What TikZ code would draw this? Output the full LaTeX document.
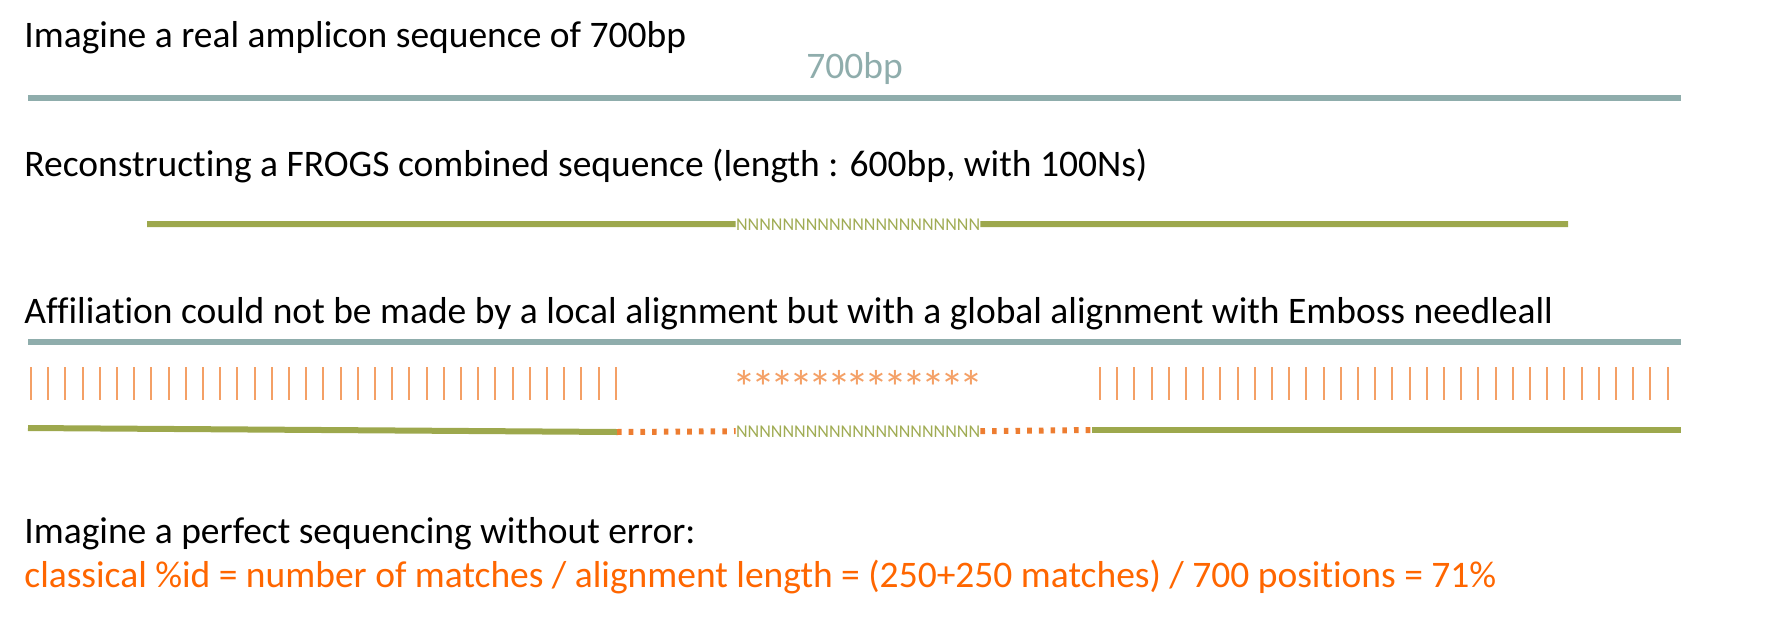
\documentclass[tikz,border=0pt]{standalone}
\usepackage{fontspec}
\setmainfont{Carlito}[Ligatures={NoCommon}]
\usepackage{xcolor}
\usetikzlibrary{positioning,calc}
\definecolor{seqgray}{RGB}{143,173,172}
\definecolor{combgreen}{RGB}{157,168,77}
\definecolor{ngreen}{RGB}{160,172,84}
\definecolor{matchorange}{RGB}{244,160,102}
\definecolor{gaporange}{RGB}{237,125,49}
\definecolor{idorange}{RGB}{255,102,0}
\tikzset{
  txt/.style={anchor=base west,inner sep=0pt,font=\fontsize{18.75pt}{22pt}\selectfont},
  nrun/.style={anchor=base,inner sep=0pt,text=ngreen,font=\fontsize{9pt}{10pt}\selectfont},
  mism/.style={inner sep=0pt,text=matchorange,font=\fontsize{24pt}{26pt}\selectfont},
  seq/.style={line width=3pt},
  gap/.style={line width=3pt,gaporange,dash pattern=on 2.3pt off 3.55pt},
  bar/.style={line width=1pt,matchorange}
}
\newcommand{\Nrun}{NNNNNNNNNNNNNNNNNNNNN}

\begin{document}
\begin{tikzpicture}[x=0.5pt,y=-0.5pt]
  \useasboundingbox (0,0) rectangle (1775,621);

  % Real amplicon
  \node[txt] (real) at (24,47) {Imagine a real amplicon sequence of 700bp};
  \node[txt,text=seqgray] (len) at (806,78) {700bp};
  \coordinate (r1) at (28,98);
  \coordinate (r2) at (1681,98);
  \draw[seq,seqgray] (r1) -- (r2);

  % Combined sequence
  \node[txt] (comb) at (24,176) {Reconstructing a FROGS combined sequence (length : 600bp, with 100Ns)};
  \node[nrun] (ntop) at (858,230) {\Nrun};
  \coordinate (c1) at (147,224);
  \coordinate (c2) at (1568,224);
  \draw[seq,combgreen] (c1) -- (ntop.west);
  \draw[seq,combgreen] (ntop.east) -- (c2);

  % Global alignment
  \node[txt] (glob) at (24,323) {Affiliation could not be made by a local alignment but with a global alignment with Emboss needleall};
  \coordinate (g1) at (28,342);
  \coordinate (g2) at (1681,342);
  \draw[seq,seqgray] (g1) -- (g2);

  % Matches
  \foreach \i in {0,...,34}
    \draw[bar] ({31+17.2*\i},367) -- ++(0,33);
  \foreach \i in {0,...,33}
    \draw[bar] ({1100+17.2*\i},367) -- ++(0,33);

  % Mismatches
  \foreach \i in {0,...,12}
    \node[mism] (s\i) at ({744.5+18.9*\i},387) {*};

  % Aligned combined sequence
  \node[nrun] (nbot) at (858,437) {\Nrun};
  \coordinate (b1) at (28,428);
  \coordinate (b2) at (617,432);
  \coordinate (b3) at (1092,430);
  \coordinate (b4) at (1681,430);
  \draw[seq,combgreen] (b1) -- (b2);
  \draw[gap] (b2) -- (nbot.west);
  \draw[gap] (nbot.east) -- (b3);
  \draw[seq,combgreen] (b3) -- (b4);

  % Identity
  \node[txt] (perf) at (24,543) {Imagine a perfect sequencing without error:};
  \node[txt,text=idorange] (ident) at (24,587) {classical \%id = number of matches / alignment length = (250+250 matches) / 700 positions = 71\%};
\end{tikzpicture}
\end{document}
